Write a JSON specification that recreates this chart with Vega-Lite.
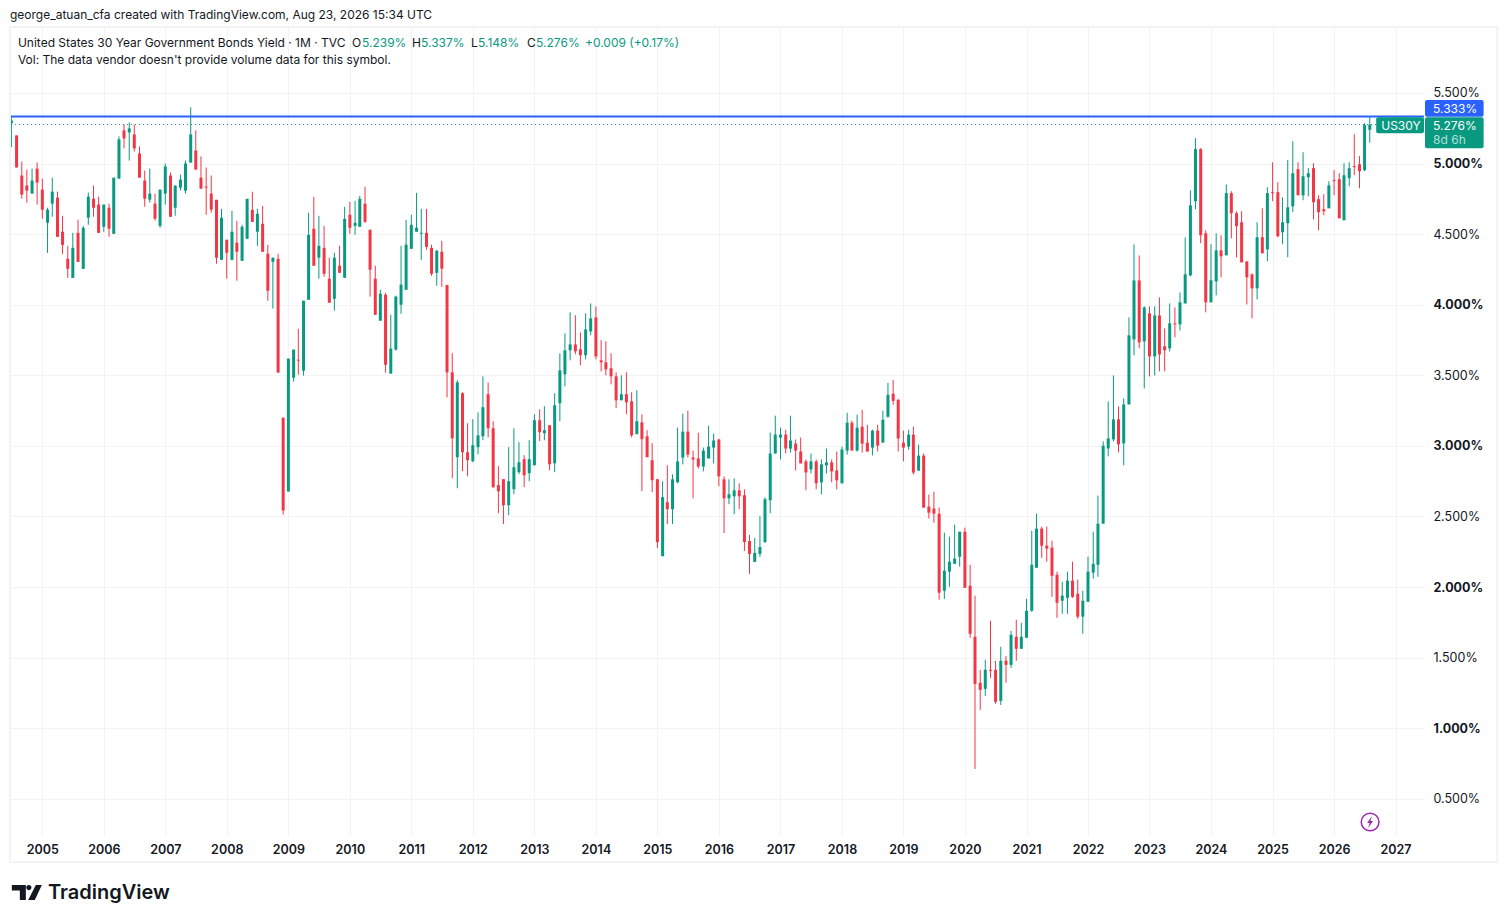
{
"$schema":"https://vega.github.io/schema/vega-lite/v6.json",
"width":1414,"height":808,
"autosize":{"type":"none"},
"padding":{"left":10,"top":27,"right":82,"bottom":88},
"background":"#ffffff",
"title":{"text":"george_atuan_cfa created with TradingView.com, Aug 23, 2026 15:34 UTC","anchor":"start","frame":"group","offset":4,"font":"Inter","fontSize":12,"fontWeight":"normal","color":"#131722"},
"config":{"view":{"stroke":null},"axis":{"domain":false,"ticks":false,"grid":true,"gridColor":"#f3f3f3","gridWidth":1,"title":null,"labelFont":"Inter","labelFontSize":12.5,"labelColor":"#131722"}},
"datasets":{
"candles":[
{"date":"2004-07-01","open":5.284,"high":5.336,"low":5.116,"close":5.306},
{"date":"2004-08-01","open":5.199,"high":5.199,"low":4.972,"close":4.972},
{"date":"2004-09-01","open":4.915,"high":5.014,"low":4.751,"close":4.78},
{"date":"2004-10-01","open":4.844,"high":4.957,"low":4.723,"close":4.808},
{"date":"2004-11-01","open":4.787,"high":4.964,"low":4.787,"close":4.879},
{"date":"2004-12-01","open":4.964,"high":5.007,"low":4.709,"close":4.865},
{"date":"2005-01-01","open":4.815,"high":4.893,"low":4.609,"close":4.673},
{"date":"2005-02-01","open":4.581,"high":4.687,"low":4.367,"close":4.673},
{"date":"2005-03-01","open":4.716,"high":4.9,"low":4.623,"close":4.801},
{"date":"2005-04-01","open":4.758,"high":4.801,"low":4.481,"close":4.481},
{"date":"2005-05-01","open":4.517,"high":4.63,"low":4.36,"close":4.424},
{"date":"2005-06-01","open":4.325,"high":4.417,"low":4.19,"close":4.254},
{"date":"2005-07-01","open":4.19,"high":4.509,"low":4.19,"close":4.403},
{"date":"2005-08-01","open":4.509,"high":4.602,"low":4.303,"close":4.303},
{"date":"2005-09-01","open":4.254,"high":4.559,"low":4.254,"close":4.545},
{"date":"2005-10-01","open":4.616,"high":4.794,"low":4.566,"close":4.765},
{"date":"2005-11-01","open":4.751,"high":4.844,"low":4.623,"close":4.687},
{"date":"2005-12-01","open":4.709,"high":4.765,"low":4.509,"close":4.509},
{"date":"2006-01-01","open":4.552,"high":4.709,"low":4.517,"close":4.709},
{"date":"2006-02-01","open":4.687,"high":4.716,"low":4.481,"close":4.538},
{"date":"2006-03-01","open":4.502,"high":4.9,"low":4.502,"close":4.9},
{"date":"2006-04-01","open":4.893,"high":5.192,"low":4.893,"close":5.171},
{"date":"2006-05-01","open":5.235,"high":5.277,"low":5.107,"close":5.178},
{"date":"2006-06-01","open":5.22,"high":5.291,"low":5.021,"close":5.249},
{"date":"2006-07-01","open":5.206,"high":5.277,"low":5.085,"close":5.107},
{"date":"2006-08-01","open":5.071,"high":5.121,"low":4.9,"close":4.9},
{"date":"2006-09-01","open":4.879,"high":4.95,"low":4.694,"close":4.751},
{"date":"2006-10-01","open":4.744,"high":4.964,"low":4.723,"close":4.787},
{"date":"2006-11-01","open":4.716,"high":4.787,"low":4.595,"close":4.609},
{"date":"2006-12-01","open":4.559,"high":4.815,"low":4.545,"close":4.815},
{"date":"2007-01-01","open":4.787,"high":5.0,"low":4.709,"close":4.979},
{"date":"2007-02-01","open":4.915,"high":4.936,"low":4.623,"close":4.623},
{"date":"2007-03-01","open":4.687,"high":4.844,"low":4.63,"close":4.844},
{"date":"2007-04-01","open":4.829,"high":4.922,"low":4.808,"close":4.886},
{"date":"2007-05-01","open":4.808,"high":5.021,"low":4.787,"close":5.0},
{"date":"2007-06-01","open":5.007,"high":5.398,"low":5.007,"close":5.206},
{"date":"2007-07-01","open":5.092,"high":5.235,"low":4.957,"close":4.957},
{"date":"2007-08-01","open":4.9,"high":5.05,"low":4.822,"close":4.822},
{"date":"2007-09-01","open":4.836,"high":4.972,"low":4.637,"close":4.829},
{"date":"2007-10-01","open":4.787,"high":4.915,"low":4.652,"close":4.673},
{"date":"2007-11-01","open":4.743,"high":4.743,"low":4.29,"close":4.333},
{"date":"2007-12-01","open":4.318,"high":4.679,"low":4.318,"close":4.616},
{"date":"2008-01-01","open":4.46,"high":4.46,"low":4.184,"close":4.368},
{"date":"2008-02-01","open":4.318,"high":4.665,"low":4.318,"close":4.517},
{"date":"2008-03-01","open":4.439,"high":4.594,"low":4.17,"close":4.375},
{"date":"2008-04-01","open":4.311,"high":4.566,"low":4.311,"close":4.552},
{"date":"2008-05-01","open":4.467,"high":4.75,"low":4.467,"close":4.75},
{"date":"2008-06-01","open":4.672,"high":4.8,"low":4.587,"close":4.587},
{"date":"2008-07-01","open":4.517,"high":4.679,"low":4.417,"close":4.644},
{"date":"2008-08-01","open":4.573,"high":4.7,"low":4.375,"close":4.375},
{"date":"2008-09-01","open":4.361,"high":4.425,"low":4.028,"close":4.099},
{"date":"2008-10-01","open":4.304,"high":4.333,"low":3.972,"close":4.333},
{"date":"2008-11-01","open":4.325,"high":4.361,"low":3.519,"close":3.519},
{"date":"2008-12-01","open":3.2,"high":3.2,"low":2.514,"close":2.542},
{"date":"2009-01-01","open":2.677,"high":3.618,"low":2.677,"close":3.618},
{"date":"2009-02-01","open":3.483,"high":3.682,"low":3.455,"close":3.682},
{"date":"2009-03-01","open":3.611,"high":3.83,"low":3.505,"close":3.604},
{"date":"2009-04-01","open":3.533,"high":4.028,"low":3.498,"close":4.028},
{"date":"2009-05-01","open":4.035,"high":4.651,"low":4.035,"close":4.495},
{"date":"2009-06-01","open":4.538,"high":4.764,"low":4.276,"close":4.276},
{"date":"2009-07-01","open":4.333,"high":4.63,"low":4.184,"close":4.417},
{"date":"2009-08-01","open":4.403,"high":4.559,"low":4.198,"close":4.219},
{"date":"2009-09-01","open":4.184,"high":4.333,"low":4.014,"close":4.014},
{"date":"2009-10-01","open":4.042,"high":4.368,"low":3.958,"close":4.333},
{"date":"2009-11-01","open":4.276,"high":4.417,"low":4.226,"close":4.226},
{"date":"2009-12-01","open":4.191,"high":4.693,"low":4.191,"close":4.608},
{"date":"2010-01-01","open":4.637,"high":4.729,"low":4.502,"close":4.545},
{"date":"2010-02-01","open":4.559,"high":4.736,"low":4.495,"close":4.58},
{"date":"2010-03-01","open":4.552,"high":4.771,"low":4.552,"close":4.75},
{"date":"2010-04-01","open":4.715,"high":4.835,"low":4.58,"close":4.587},
{"date":"2010-05-01","open":4.531,"high":4.531,"low":4.057,"close":4.248},
{"date":"2010-06-01","open":4.184,"high":4.276,"low":3.929,"close":3.929},
{"date":"2010-07-01","open":3.887,"high":4.106,"low":3.887,"close":4.078},
{"date":"2010-08-01","open":4.071,"high":4.085,"low":3.519,"close":3.575},
{"date":"2010-09-01","open":3.512,"high":3.929,"low":3.512,"close":3.689},
{"date":"2010-10-01","open":3.682,"high":4.064,"low":3.675,"close":4.057},
{"date":"2010-11-01","open":4.0,"high":4.417,"low":3.936,"close":4.142},
{"date":"2010-12-01","open":4.106,"high":4.601,"low":4.106,"close":4.425},
{"date":"2011-01-01","open":4.396,"high":4.637,"low":4.396,"close":4.566},
{"date":"2011-02-01","open":4.517,"high":4.792,"low":4.517,"close":4.545},
{"date":"2011-03-01","open":4.502,"high":4.679,"low":4.318,"close":4.509},
{"date":"2011-04-01","open":4.509,"high":4.679,"low":4.389,"close":4.41},
{"date":"2011-05-01","open":4.403,"high":4.425,"low":4.205,"close":4.219},
{"date":"2011-06-01","open":4.226,"high":4.389,"low":4.134,"close":4.382},
{"date":"2011-07-01","open":4.375,"high":4.453,"low":4.127,"close":4.255},
{"date":"2011-08-01","open":4.14,"high":4.14,"low":3.344,"close":3.521},
{"date":"2011-09-01","open":3.521,"high":3.656,"low":2.771,"close":3.054},
{"date":"2011-10-01","open":2.92,"high":3.465,"low":2.7,"close":3.45},
{"date":"2011-11-01","open":3.373,"high":3.38,"low":2.821,"close":2.955},
{"date":"2011-12-01","open":2.955,"high":3.16,"low":2.785,"close":2.899},
{"date":"2012-01-01","open":2.892,"high":3.189,"low":2.884,"close":3.005},
{"date":"2012-02-01","open":2.991,"high":3.238,"low":2.941,"close":3.075},
{"date":"2012-03-01","open":3.068,"high":3.493,"low":3.04,"close":3.274},
{"date":"2012-04-01","open":3.366,"high":3.45,"low":3.061,"close":3.125},
{"date":"2012-05-01","open":3.125,"high":3.175,"low":2.7,"close":2.708},
{"date":"2012-06-01","open":2.722,"high":2.856,"low":2.524,"close":2.679},
{"date":"2012-07-01","open":2.764,"high":2.764,"low":2.446,"close":2.58},
{"date":"2012-08-01","open":2.58,"high":2.991,"low":2.509,"close":2.75},
{"date":"2012-09-01","open":2.693,"high":3.125,"low":2.658,"close":2.849},
{"date":"2012-10-01","open":2.814,"high":3.026,"low":2.8,"close":2.884},
{"date":"2012-11-01","open":2.906,"high":2.934,"low":2.708,"close":2.792},
{"date":"2012-12-01","open":2.807,"high":3.04,"low":2.75,"close":2.906},
{"date":"2013-01-01","open":2.863,"high":3.224,"low":2.863,"close":3.182},
{"date":"2013-02-01","open":3.182,"high":3.259,"low":3.033,"close":3.097},
{"date":"2013-03-01","open":3.09,"high":3.281,"low":3.04,"close":3.111},
{"date":"2013-04-01","open":3.146,"high":3.146,"low":2.828,"close":2.87},
{"date":"2013-05-01","open":2.877,"high":3.373,"low":2.814,"close":3.288},
{"date":"2013-06-01","open":3.302,"high":3.656,"low":3.175,"close":3.535},
{"date":"2013-07-01","open":3.507,"high":3.797,"low":3.422,"close":3.677},
{"date":"2013-08-01","open":3.677,"high":3.946,"low":3.606,"close":3.719},
{"date":"2013-09-01","open":3.719,"high":3.925,"low":3.649,"close":3.67},
{"date":"2013-10-01","open":3.684,"high":3.804,"low":3.571,"close":3.642},
{"date":"2013-11-01","open":3.642,"high":3.939,"low":3.613,"close":3.825},
{"date":"2013-12-01","open":3.811,"high":4.009,"low":3.783,"close":3.903},
{"date":"2014-01-01","open":3.91,"high":3.988,"low":3.613,"close":3.634},
{"date":"2014-02-01","open":3.606,"high":3.748,"low":3.528,"close":3.592},
{"date":"2014-03-01","open":3.592,"high":3.741,"low":3.5,"close":3.542},
{"date":"2014-04-01","open":3.55,"high":3.656,"low":3.436,"close":3.493},
{"date":"2014-05-01","open":3.493,"high":3.521,"low":3.267,"close":3.323},
{"date":"2014-06-01","open":3.323,"high":3.5,"low":3.323,"close":3.366},
{"date":"2014-07-01","open":3.366,"high":3.521,"low":3.224,"close":3.309},
{"date":"2014-08-01","open":3.316,"high":3.38,"low":3.061,"close":3.075},
{"date":"2014-09-01","open":3.083,"high":3.394,"low":3.083,"close":3.175},
{"date":"2014-10-01","open":3.167,"high":3.224,"low":2.679,"close":3.047},
{"date":"2014-11-01","open":3.068,"high":3.111,"low":2.92,"close":2.92},
{"date":"2014-12-01","open":2.899,"high":3.019,"low":2.672,"close":2.757},
{"date":"2015-01-01","open":2.764,"high":2.764,"low":2.276,"close":2.318},
{"date":"2015-02-01","open":2.219,"high":2.75,"low":2.219,"close":2.637},
{"date":"2015-03-01","open":2.601,"high":2.863,"low":2.446,"close":2.552},
{"date":"2015-04-01","open":2.552,"high":2.798,"low":2.446,"close":2.763},
{"date":"2015-05-01","open":2.742,"high":3.129,"low":2.735,"close":2.89},
{"date":"2015-06-01","open":2.918,"high":3.228,"low":2.869,"close":3.101},
{"date":"2015-07-01","open":3.101,"high":3.249,"low":2.918,"close":2.939},
{"date":"2015-08-01","open":2.918,"high":2.967,"low":2.629,"close":2.904},
{"date":"2015-09-01","open":2.911,"high":3.094,"low":2.84,"close":2.854},
{"date":"2015-10-01","open":2.854,"high":2.988,"low":2.819,"close":2.967},
{"date":"2015-11-01","open":2.911,"high":3.143,"low":2.911,"close":2.995},
{"date":"2015-12-01","open":2.988,"high":3.087,"low":2.876,"close":3.038},
{"date":"2016-01-01","open":3.045,"high":3.052,"low":2.714,"close":2.784},
{"date":"2016-02-01","open":2.763,"high":2.784,"low":2.383,"close":2.629},
{"date":"2016-03-01","open":2.629,"high":2.763,"low":2.587,"close":2.657},
{"date":"2016-04-01","open":2.643,"high":2.77,"low":2.516,"close":2.685},
{"date":"2016-05-01","open":2.685,"high":2.735,"low":2.552,"close":2.643},
{"date":"2016-06-01","open":2.65,"high":2.692,"low":2.256,"close":2.319},
{"date":"2016-07-01","open":2.326,"high":2.369,"low":2.094,"close":2.235},
{"date":"2016-08-01","open":2.178,"high":2.347,"low":2.178,"close":2.242},
{"date":"2016-09-01","open":2.235,"high":2.502,"low":2.214,"close":2.284},
{"date":"2016-10-01","open":2.319,"high":2.636,"low":2.312,"close":2.622},
{"date":"2016-11-01","open":2.615,"high":3.094,"low":2.523,"close":2.946},
{"date":"2016-12-01","open":2.946,"high":3.214,"low":2.946,"close":3.08},
{"date":"2017-01-01","open":3.059,"high":3.129,"low":2.904,"close":3.08},
{"date":"2017-02-01","open":3.08,"high":3.115,"low":2.946,"close":2.981},
{"date":"2017-03-01","open":2.981,"high":3.214,"low":2.953,"close":3.038},
{"date":"2017-04-01","open":3.016,"high":3.045,"low":2.826,"close":2.967},
{"date":"2017-05-01","open":2.96,"high":3.059,"low":2.876,"close":2.876},
{"date":"2017-06-01","open":2.89,"high":2.904,"low":2.685,"close":2.812},
{"date":"2017-07-01","open":2.833,"high":2.946,"low":2.805,"close":2.89},
{"date":"2017-08-01","open":2.89,"high":2.904,"low":2.692,"close":2.735},
{"date":"2017-09-01","open":2.742,"high":2.904,"low":2.657,"close":2.869},
{"date":"2017-10-01","open":2.862,"high":2.981,"low":2.805,"close":2.883},
{"date":"2017-11-01","open":2.883,"high":2.904,"low":2.742,"close":2.819},
{"date":"2017-12-01","open":2.826,"high":2.96,"low":2.692,"close":2.756},
{"date":"2018-01-01","open":2.735,"high":2.995,"low":2.735,"close":2.974},
{"date":"2018-02-01","open":2.967,"high":3.235,"low":2.939,"close":3.164},
{"date":"2018-03-01","open":3.164,"high":3.178,"low":2.967,"close":2.967},
{"date":"2018-04-01","open":2.967,"high":3.221,"low":2.96,"close":3.129},
{"date":"2018-05-01","open":3.136,"high":3.256,"low":2.953,"close":3.016},
{"date":"2018-06-01","open":3.023,"high":3.15,"low":2.96,"close":2.96},
{"date":"2018-07-01","open":2.988,"high":3.115,"low":2.932,"close":3.108},
{"date":"2018-08-01","open":3.108,"high":3.15,"low":2.96,"close":3.002},
{"date":"2018-09-01","open":3.023,"high":3.249,"low":3.023,"close":3.185},
{"date":"2018-10-01","open":3.207,"high":3.446,"low":3.2,"close":3.362},
{"date":"2018-11-01","open":3.369,"high":3.467,"low":3.291,"close":3.319},
{"date":"2018-12-01","open":3.326,"high":3.333,"low":2.96,"close":3.052},
{"date":"2019-01-01","open":3.023,"high":3.108,"low":2.89,"close":2.988},
{"date":"2019-02-01","open":2.995,"high":3.115,"low":2.974,"close":3.08},
{"date":"2019-03-01","open":3.08,"high":3.137,"low":2.797,"close":2.811},
{"date":"2019-04-01","open":2.825,"high":3.009,"low":2.825,"close":2.931},
{"date":"2019-05-01","open":2.931,"high":2.946,"low":2.563,"close":2.563},
{"date":"2019-06-01","open":2.57,"high":2.655,"low":2.485,"close":2.527},
{"date":"2019-07-01","open":2.556,"high":2.676,"low":2.456,"close":2.52},
{"date":"2019-08-01","open":2.52,"high":2.563,"low":1.91,"close":1.96},
{"date":"2019-09-01","open":1.974,"high":2.385,"low":1.917,"close":2.116},
{"date":"2019-10-01","open":2.109,"high":2.357,"low":2.002,"close":2.18},
{"date":"2019-11-01","open":2.165,"high":2.442,"low":2.165,"close":2.201},
{"date":"2019-12-01","open":2.215,"high":2.392,"low":2.144,"close":2.392},
{"date":"2020-01-01","open":2.392,"high":2.421,"low":1.995,"close":1.995},
{"date":"2020-02-01","open":2.009,"high":2.158,"low":1.641,"close":1.669},
{"date":"2020-03-01","open":1.648,"high":1.939,"low":0.712,"close":1.314},
{"date":"2020-04-01","open":1.322,"high":1.414,"low":1.13,"close":1.272},
{"date":"2020-05-01","open":1.279,"high":1.485,"low":1.229,"close":1.414},
{"date":"2020-06-01","open":1.414,"high":1.761,"low":1.357,"close":1.407},
{"date":"2020-07-01","open":1.414,"high":1.478,"low":1.173,"close":1.187},
{"date":"2020-08-01","open":1.194,"high":1.577,"low":1.165,"close":1.478},
{"date":"2020-09-01","open":1.478,"high":1.513,"low":1.322,"close":1.449},
{"date":"2020-10-01","open":1.449,"high":1.69,"low":1.428,"close":1.662},
{"date":"2020-11-01","open":1.648,"high":1.768,"low":1.478,"close":1.563},
{"date":"2020-12-01","open":1.563,"high":1.747,"low":1.563,"close":1.648},
{"date":"2021-01-01","open":1.641,"high":1.917,"low":1.641,"close":1.832},
{"date":"2021-02-01","open":1.832,"high":2.4,"low":1.825,"close":2.158},
{"date":"2021-03-01","open":2.137,"high":2.52,"low":2.137,"close":2.414},
{"date":"2021-04-01","open":2.414,"high":2.428,"low":2.208,"close":2.293},
{"date":"2021-05-01","open":2.293,"high":2.428,"low":2.18,"close":2.272},
{"date":"2021-06-01","open":2.279,"high":2.329,"low":1.931,"close":2.08},
{"date":"2021-07-01","open":2.087,"high":2.109,"low":1.782,"close":1.889},
{"date":"2021-08-01","open":1.903,"high":2.038,"low":1.811,"close":1.939},
{"date":"2021-09-01","open":1.924,"high":2.109,"low":1.811,"close":2.045},
{"date":"2021-10-01","open":2.045,"high":2.18,"low":1.924,"close":1.931},
{"date":"2021-11-01","open":1.953,"high":2.052,"low":1.775,"close":1.79},
{"date":"2021-12-01","open":1.79,"high":1.974,"low":1.669,"close":1.903},
{"date":"2022-01-01","open":1.896,"high":2.215,"low":1.896,"close":2.109},
{"date":"2022-02-01","open":2.102,"high":2.392,"low":2.059,"close":2.165},
{"date":"2022-03-01","open":2.158,"high":2.648,"low":2.073,"close":2.449},
{"date":"2022-04-01","open":2.449,"high":3.032,"low":2.449,"close":3.001},
{"date":"2022-05-01","open":2.982,"high":3.315,"low":2.926,"close":3.053},
{"date":"2022-06-01","open":3.046,"high":3.499,"low":3.032,"close":3.188},
{"date":"2022-07-01","open":3.188,"high":3.28,"low":2.954,"close":3.011},
{"date":"2022-08-01","open":3.018,"high":3.337,"low":2.862,"close":3.294},
{"date":"2022-09-01","open":3.294,"high":3.91,"low":3.294,"close":3.783},
{"date":"2022-10-01","open":3.754,"high":4.427,"low":3.641,"close":4.172},
{"date":"2022-11-01","open":4.172,"high":4.349,"low":3.691,"close":3.733},
{"date":"2022-12-01","open":3.74,"high":3.988,"low":3.407,"close":3.981},
{"date":"2023-01-01","open":3.939,"high":3.988,"low":3.492,"close":3.634},
{"date":"2023-02-01","open":3.634,"high":3.988,"low":3.499,"close":3.924},
{"date":"2023-03-01","open":3.924,"high":4.052,"low":3.528,"close":3.648},
{"date":"2023-04-01","open":3.705,"high":3.832,"low":3.528,"close":3.677},
{"date":"2023-05-01","open":3.691,"high":4.009,"low":3.669,"close":3.868},
{"date":"2023-06-01","open":3.868,"high":3.981,"low":3.769,"close":3.861},
{"date":"2023-07-01","open":3.861,"high":4.087,"low":3.818,"close":4.017},
{"date":"2023-08-01","open":4.009,"high":4.477,"low":4.009,"close":4.215},
{"date":"2023-09-01","open":4.208,"high":4.811,"low":4.201,"close":4.704},
{"date":"2023-10-01","open":4.733,"high":5.18,"low":4.676,"close":5.102},
{"date":"2023-11-01","open":5.102,"high":5.109,"low":4.435,"close":4.492},
{"date":"2023-12-01","open":4.506,"high":4.527,"low":3.946,"close":4.017},
{"date":"2024-01-01","open":4.017,"high":4.428,"low":4.017,"close":4.173},
{"date":"2024-02-01","open":4.165,"high":4.506,"low":4.066,"close":4.385},
{"date":"2024-03-01","open":4.385,"high":4.492,"low":4.194,"close":4.343},
{"date":"2024-04-01","open":4.35,"high":4.853,"low":4.35,"close":4.79},
{"date":"2024-05-01","open":4.79,"high":4.804,"low":4.47,"close":4.648},
{"date":"2024-06-01","open":4.648,"high":4.662,"low":4.336,"close":4.556},
{"date":"2024-07-01","open":4.584,"high":4.662,"low":4.3,"close":4.3},
{"date":"2024-08-01","open":4.307,"high":4.307,"low":4.002,"close":4.194},
{"date":"2024-09-01","open":4.215,"high":4.222,"low":3.903,"close":4.116},
{"date":"2024-10-01","open":4.116,"high":4.584,"low":4.038,"close":4.478},
{"date":"2024-11-01","open":4.478,"high":4.683,"low":4.364,"close":4.364},
{"date":"2024-12-01","open":4.392,"high":4.832,"low":4.307,"close":4.79},
{"date":"2025-01-01","open":4.797,"high":5.009,"low":4.733,"close":4.79},
{"date":"2025-02-01","open":4.797,"high":4.868,"low":4.478,"close":4.485},
{"date":"2025-03-01","open":4.513,"high":4.761,"low":4.428,"close":4.584},
{"date":"2025-04-01","open":4.577,"high":5.024,"low":4.336,"close":4.69},
{"date":"2025-05-01","open":4.697,"high":5.158,"low":4.655,"close":4.931},
{"date":"2025-06-01","open":4.96,"high":5.009,"low":4.775,"close":4.775},
{"date":"2025-07-01","open":4.775,"high":5.08,"low":4.74,"close":4.91},
{"date":"2025-08-01","open":4.903,"high":4.967,"low":4.768,"close":4.931},
{"date":"2025-09-01","open":4.967,"high":5.002,"low":4.605,"close":4.726},
{"date":"2025-10-01","open":4.747,"high":4.775,"low":4.527,"close":4.655},
{"date":"2025-11-01","open":4.676,"high":4.783,"low":4.634,"close":4.662},
{"date":"2025-12-01","open":4.683,"high":4.875,"low":4.683,"close":4.846},
{"date":"2026-01-01","open":4.882,"high":4.953,"low":4.775,"close":4.875},
{"date":"2026-02-01","open":4.889,"high":4.931,"low":4.612,"close":4.612},
{"date":"2026-03-01","open":4.598,"high":5.002,"low":4.598,"close":4.917},
{"date":"2026-04-01","open":4.896,"high":5.009,"low":4.839,"close":4.967},
{"date":"2026-05-01","open":4.981,"high":5.208,"low":4.917,"close":4.974},
{"date":"2026-06-01","open":4.995,"high":5.052,"low":4.825,"close":4.946},
{"date":"2026-07-01","open":4.953,"high":5.286,"low":4.946,"close":5.272},
{"date":"2026-08-01","open":5.239,"high":5.337,"low":5.148,"close":5.276}
],
"lastPrice":[{"yield":5.276}],
"priceLine":[{"yield":5.333}],
"boxes":[
{"kind":"last","x1":"2027-06-25","x2":"2028-06-07","y1":5.327,"y2":5.108},
{"kind":"name","x1":"2026-09-08","x2":"2027-06-19","y1":5.327,"y2":5.214},
{"kind":"line","x1":"2027-06-25","x2":"2028-06-07","y1":5.45,"y2":5.331}
],
"frame":[{"x1":"2004-06-23","x2":"2028-08-27","y1":5.967,"y2":0.053}],
"labels":[
{"date":"2004-08-09","yield":5.853,"label":"United States 30 Year Government Bonds Yield · 1M · TVC","kind":"ink"},
{"date":"2010-01-14","yield":5.853,"label":"O","kind":"ink"},
{"date":"2010-03-14","yield":5.853,"label":"5.239%","kind":"up"},
{"date":"2011-01-05","yield":5.853,"label":"H","kind":"ink"},
{"date":"2011-02-28","yield":5.853,"label":"5.337%","kind":"up"},
{"date":"2011-12-21","yield":5.853,"label":"L","kind":"ink"},
{"date":"2012-02-01","yield":5.853,"label":"5.148%","kind":"up"},
{"date":"2012-11-18","yield":5.853,"label":"C","kind":"ink"},
{"date":"2013-01-11","yield":5.853,"label":"5.276%","kind":"up"},
{"date":"2013-10-28","yield":5.853,"label":"+0.009 (+0.17%)","kind":"up"},
{"date":"2004-08-09","yield":5.733,"label":"Vol: The data vendor doesn't provide volume data for this symbol.","kind":"ink"},
{"date":"2026-10-08","yield":5.266,"label":"US30Y","kind":"white"},
{"date":"2027-08-12","yield":5.386,"label":"5.333%","kind":"white"},
{"date":"2027-08-12","yield":5.266,"label":"5.276%","kind":"white"},
{"date":"2027-08-12","yield":5.166,"label":"8d 6h","kind":"muted"}
],
"brand":[{"date":"2005-02-03","yield":-0.166,"label":"TradingView"}],
"logo":[{"date":"2004-10-01","yield":-0.166}],
"replay":[{"date":"2026-08-03","yield":0.336}]
},
"layer":[
{"data":{"name":"candles"},"mark":{"type":"rule","strokeWidth":1},
"encoding":{
"x":{"field":"date","type":"temporal","scale":{"type":"utc","domain":["2004-06-23","2027-06-19"],"padding":0},"axis":{"tickCount":{"interval":"year","step":1},"format":"%Y","labelFontWeight":600,"labelPadding":8,"labelOverlap":false,"labelFlush":false}},
"y":{"field":"low","type":"quantitative","scale":{"domain":[0.244,5.967],"nice":false,"zero":false},"axis":{"orient":"right","values":[0.5,1,1.5,2,2.5,3,3.5,4,4.5,5,5.5],"labelExpr":"format(datum.value,'.3f')+'%'","labelPadding":9,"labelFontWeight":{"condition":{"test":"datum.value % 1 === 0","value":"bold"},"value":"normal"}}},
"y2":{"field":"high"},
"color":{"condition":{"test":"datum.close >= datum.open","value":"#089981"},"value":"#F23645"}}},
{"data":{"name":"candles"},"mark":{"type":"bar","size":3,"orient":"vertical"},
"encoding":{
"x":{"field":"date","type":"temporal"},
"y":{"field":"open","type":"quantitative"},
"y2":{"field":"close"},
"color":{"condition":{"test":"datum.close >= datum.open","value":"#089981"},"value":"#F23645"}}},
{"data":{"name":"lastPrice"},"mark":{"type":"rule","strokeWidth":1,"strokeDash":[1,3],"color":"#089981"},"encoding":{"y":{"field":"yield","type":"quantitative"}}},
{"data":{"name":"priceLine"},"mark":{"type":"rule","strokeWidth":2,"color":"#2962FF"},"encoding":{"y":{"field":"yield","type":"quantitative"}}},
{"data":{"name":"frame"},"mark":{"type":"rect","fillOpacity":0,"stroke":"#f3f3f3","strokeWidth":2},
"encoding":{"x":{"field":"x1","type":"temporal"},"x2":{"field":"x2"},"y":{"field":"y1","type":"quantitative"},"y2":{"field":"y2"}}},
{"data":{"name":"boxes"},"mark":{"type":"rect","cornerRadius":2},
"encoding":{"x":{"field":"x1","type":"temporal"},"x2":{"field":"x2"},"y":{"field":"y1","type":"quantitative"},"y2":{"field":"y2"},
"color":{"field":"kind","type":"nominal","scale":{"domain":["last","name","line"],"range":["#089981","#089981","#2962FF"]},"legend":null}}},
{"data":{"name":"labels"},"mark":{"type":"text","align":"left","baseline":"middle","font":"Inter","fontSize":12},
"encoding":{"x":{"field":"date","type":"temporal"},"y":{"field":"yield","type":"quantitative"},"text":{"field":"label"},
"fill":{"field":"kind","type":"nominal","scale":{"domain":["ink","up","white","muted"],"range":["#131722","#089981","#ffffff","#b5e0d7"]},"legend":null}}},
{"data":{"name":"brand"},"mark":{"type":"text","align":"left","baseline":"middle","font":"Inter","fontSize":20,"fontWeight":600,"color":"#131722"},
"encoding":{"x":{"field":"date","type":"temporal"},"y":{"field":"yield","type":"quantitative"},"text":{"field":"label"}}},
{"data":{"name":"logo"},"mark":{"type":"point","filled":true,"opacity":1,"color":"#131722","size":3600,"shape":"M-0.5 -0.267 H-0.033 V0.233 H-0.233 V-0.078 H-0.5 Z M-0.02 -0.178 a0.087 0.087 0 1 0 0.174 0 a0.087 0.087 0 1 0 -0.174 0 Z M0.3 -0.267 H0.5 L0.267 0.233 H0.044 Z"},
"encoding":{"x":{"field":"date","type":"temporal"},"y":{"field":"yield","type":"quantitative"}}},
{"data":{"name":"replay"},"mark":{"type":"point","shape":"circle","filled":false,"opacity":1,"stroke":"#9C27B0","strokeWidth":1.5,"size":314},
"encoding":{"x":{"field":"date","type":"temporal"},"y":{"field":"yield","type":"quantitative"}}},
{"data":{"name":"replay"},"mark":{"type":"point","filled":true,"opacity":1,"color":"#9C27B0","size":1600,"shape":"M0.1 -0.3 L-0.15 0.05 H-0.02 L-0.1 0.3 L0.15 -0.05 H0.02 Z"},
"encoding":{"x":{"field":"date","type":"temporal"},"y":{"field":"yield","type":"quantitative"}}}
]
}
